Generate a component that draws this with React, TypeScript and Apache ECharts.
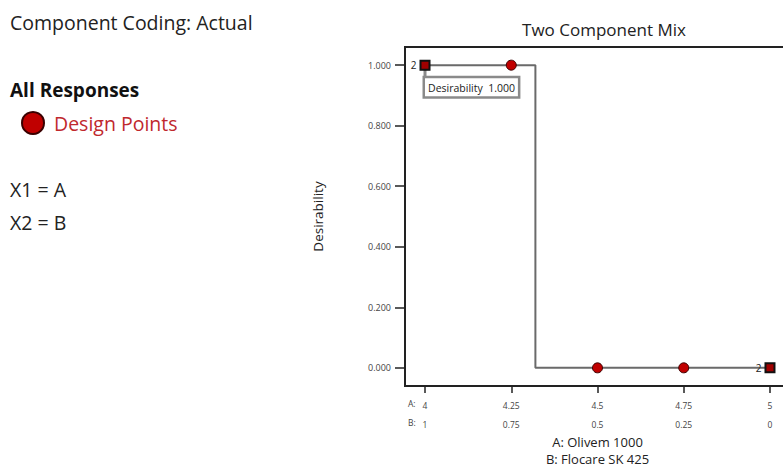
import React, { useEffect, useRef } from "react";
import * as echarts from "echarts";

// Component A (Olivem 1000) tick values and matching B (Flocare SK 425) values
const aTicks = [4, 4.25, 4.5, 4.75, 5];
const bTicks = [1, 0.75, 0.5, 0.25, 0];
const yTicks = [0, 0.2, 0.4, 0.6, 0.8, 1.0];

// Desirability profile along the mix (step down near A = 4.32)
const desirabilityCurve: [number, number][] = [
  [4, 1],
  [4.32, 1],
  [4.32, 0],
  [5, 0],
];

// Single design points
const designPoints: [number, number][] = [
  [4.25, 1],
  [4.5, 0],
  [4.75, 0],
];

// Replicated design points (count shown beside marker)
const replicatePoints: [number, number, number][] = [
  [4, 1, 2],
  [5, 0, 2],
];

const currentDesirability = 1.0;

const FONT = "'Open Sans', 'Noto Sans', sans-serif";

export default function App() {
  const ref = useRef<HTMLDivElement>(null);

  useEffect(() => {
    if (!ref.current) return;
    const chart = echarts.init(ref.current, null, { renderer: "svg" });
    const bLabel = (v: number) => {
      const i = aTicks.findIndex((a) => Math.abs(a - v) < 1e-6);
      return i >= 0 ? String(bTicks[i]) : "";
    };
    chart.setOption({
      animation: false,
      backgroundColor: "#fff",
      textStyle: { fontFamily: FONT },
      title: {
        text: "Two Component Mix",
        left: 599,
        top: 16,
        textAlign: "center",
        textStyle: { fontFamily: FONT, fontSize: 17, fontWeight: "normal", color: "#222" },
      },
      legend: {
        left: 21,
        top: 111,
        padding: 0,
        orient: "vertical",
        itemWidth: 22,
        itemHeight: 22,
        itemGap: 6,
        data: [{ name: "Design Points", icon: "circle" }],
        textStyle: { fontFamily: FONT, fontSize: 19.5, color: "#c0282d", padding: [0, 0, 0, 5] },
        selectedMode: false,
      },
      graphic: [
        { type: "text", left: 10, top: 12, style: { text: "Component Coding: Actual", font: `19.5px ${FONT}`, fill: "#222" } },
        { type: "text", left: 10, top: 80, style: { text: "All Responses", font: `bold 19px ${FONT}`, fill: "#111" } },
        { type: "text", left: 10, top: 179, style: { text: "X1 = A", font: `19.5px ${FONT}`, fill: "#222" } },
        { type: "text", left: 10, top: 212, style: { text: "X2 = B", font: `19.5px ${FONT}`, fill: "#222" } },
        { type: "text", left: 408, top: 399, style: { text: "A:", font: `8.5px ${FONT}`, fill: "#444" } },
        { type: "text", left: 408, top: 418, style: { text: "B:", font: `8.5px ${FONT}`, fill: "#444" } },
      ],
      grid: {
        left: 405,
        top: 47,
        width: 385,
        height: 339,
        show: true,
        borderColor: "#222",
        borderWidth: 2,
        backgroundColor: "transparent",
        outerBoundsMode: "none",
        containLabel: false,
      },
      xAxis: {
        type: "value",
        min: 3.942,
        max: 5.058,
        name: "A: Olivem 1000\nB: Flocare SK 425",
        nameLocation: "middle",
        nameGap: 47,
        nameMoveOverlap: false,
        nameTextStyle: { fontFamily: FONT, fontSize: 13, color: "#222", lineHeight: 17 },
        axisLine: { show: true, onZero: false, lineStyle: { color: "#222", width: 2 } },
        axisTick: { show: true, length: 7, lineStyle: { color: "#222", width: 1.5 }, customValues: aTicks },
        axisLabel: {
          customValues: aTicks,
          fontSize: 8.5,
          color: "#444",
          lineHeight: 19,
          margin: 10,
          formatter: (v: number) => `${v}\n${bLabel(v)}`,
        },
        splitLine: { show: false },
      },
      yAxis: {
        type: "value",
        min: -0.06,
        max: 1.06,
        name: "Desirability",
        nameLocation: "middle",
        nameGap: 80,
        nameMoveOverlap: false,
        nameTextStyle: { fontFamily: FONT, fontSize: 13.5, color: "#222" },
        axisLine: { show: true, onZero: false, lineStyle: { color: "#222", width: 2 } },
        axisTick: { show: true, length: 10, lineStyle: { color: "#222", width: 1.5 }, customValues: yTicks },
        axisLabel: {
          customValues: yTicks,
          fontSize: 9,
          color: "#444",
          margin: 14,
          formatter: (v: number) => v.toFixed(3),
        },
        splitLine: { show: false },
      },
      series: [
        {
          name: "Desirability",
          type: "line",
          data: desirabilityCurve,
          symbol: "none",
          lineStyle: { color: "#6a6a6a", width: 2 },
          z: 2,
        },
        {
          name: "Design Points",
          type: "scatter",
          data: designPoints,
          symbol: "circle",
          symbolSize: 10,
          itemStyle: { color: "#c00000", borderColor: "#3a0000", borderWidth: 1, opacity: 1 },
          z: 4,
        },
        {
          name: "Replicates",
          type: "scatter",
          data: replicatePoints,
          symbol: "rect",
          symbolSize: 9,
          itemStyle: { color: "#a00000", borderColor: "#111", borderWidth: 2, opacity: 1 },
          label: {
            show: true,
            position: "left",
            distance: 3,
            formatter: (p: any) => String(p.value[2]),
            fontFamily: FONT,
            fontSize: 10,
            color: "#222",
          },
          z: 5,
          markPoint: {
            symbol: "rect",
            symbolSize: [3, 14],
            symbolOffset: [0, 7],
            itemStyle: { color: "#8a8a8a" },
            z: 3,
            label: {
              show: true,
              position: [1.5, 13],
              align: "left",
              verticalAlign: "top",
              formatter: `Desirability  ${currentDesirability.toFixed(3)}`,
              fontFamily: FONT,
              fontSize: 10.5,
              color: "#222",
              backgroundColor: "#fff",
              borderColor: "#8a8a8a",
              borderWidth: 2.5,
              padding: [4, 3, 3, 3],
            },
            data: [{ coord: [4, currentDesirability], value: currentDesirability }],
          },
        },
      ],
    });
    return () => chart.dispose();
  }, []);

  return <div ref={ref} style={{ width: 783, height: 468, position: "absolute", left: 0, top: 0 }} />;
}
